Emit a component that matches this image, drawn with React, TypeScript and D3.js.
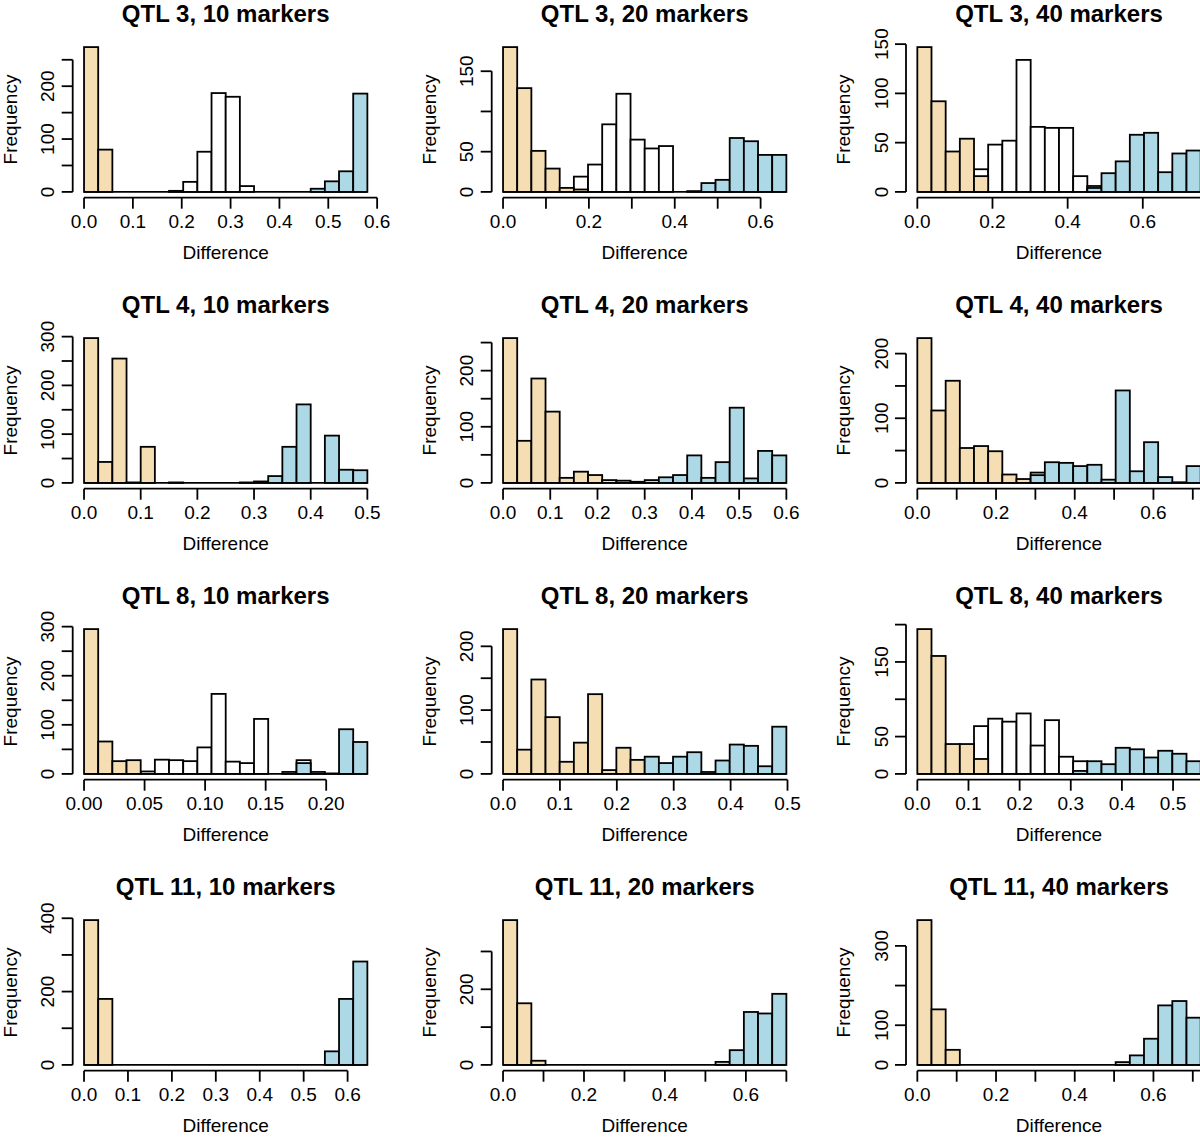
import React from 'react';
import * as d3 from 'd3';

/* ── counts per bin (20 equal bins from 0 to the panel max) ── */
// QTL 3
const q3m10Tan   = [274, 80, 0, 0, 0, 0, 0, 0, 0, 0, 0, 0, 0, 0, 0, 0, 0, 0, 0, 0];
const q3m10White = [0, 0, 0, 0, 0, 0, 2, 19, 76, 187, 180, 11, 0, 0, 0, 0, 0, 0, 0, 0];
const q3m10Blue  = [0, 0, 0, 0, 0, 0, 0, 0, 0, 0, 0, 0, 0, 0, 0, 0, 6, 20, 39, 186];

const q3m20Tan   = [180, 129, 51, 29, 5, 3, 0, 0, 0, 0, 0, 0, 0, 0, 0, 0, 0, 0, 0, 0];
const q3m20White = [0, 0, 0, 0, 0, 19, 34, 84, 122, 65, 54, 57, 0, 1, 0, 0, 0, 0, 0, 0];
const q3m20Blue  = [0, 0, 0, 0, 0, 0, 0, 0, 0, 0, 0, 0, 0, 0, 11, 15, 67, 63, 46, 46];

const q3m40Tan   = [147, 92, 41, 54, 16, 0, 0, 0, 0, 0, 0, 0, 0, 0, 0, 0, 0, 0, 0, 0];
const q3m40White = [0, 0, 0, 0, 23, 48, 52, 134, 66, 65, 65, 16, 6, 0, 0, 0, 0, 0, 0, 0];
const q3m40Blue  = [0, 0, 0, 0, 0, 0, 0, 0, 0, 0, 0, 0, 4, 19, 31, 58, 60, 20, 39, 42];

// QTL 4
const q4m10Tan   = [297, 43, 255, 1, 74, 0, 0, 0, 0, 0, 0, 0, 0, 0, 0, 0, 0, 0, 0, 0];
const q4m10White = [0, 0, 0, 0, 0, 0, 1, 0, 0, 0, 0, 1, 0, 0, 0, 0, 0, 0, 0, 0];
const q4m10Blue  = [0, 0, 0, 0, 0, 0, 0, 0, 0, 0, 0, 0, 3, 14, 74, 161, 0, 97, 27, 26];

const q4m20Tan   = [258, 75, 186, 127, 9, 20, 14, 5, 4, 2, 0, 0, 0, 0, 0, 0, 0, 0, 0, 0];
const q4m20White = [0, 0, 0, 0, 0, 0, 0, 0, 0, 0, 0, 0, 0, 0, 0, 0, 0, 0, 0, 0];
const q4m20Blue  = [0, 0, 0, 0, 0, 0, 0, 0, 0, 0, 5, 10, 14, 49, 9, 37, 134, 8, 57, 49];

const q4m40Tan   = [224, 112, 158, 54, 57, 49, 13, 6, 16, 0, 0, 0, 0, 0, 0, 0, 0, 0, 0, 0];
const q4m40White = [0, 0, 0, 0, 0, 0, 0, 0, 0, 0, 0, 0, 0, 0, 0, 0, 0, 0, 0, 0];
const q4m40Blue  = [0, 0, 0, 0, 0, 0, 0, 0, 12, 32, 31, 26, 28, 5, 143, 18, 63, 9, 1, 26];

// QTL 8
const q8m10Tan   = [295, 66, 26, 28, 0, 0, 0, 0, 0, 0, 0, 0, 0, 0, 0, 0, 0, 0, 0, 0];
const q8m10White = [0, 0, 0, 0, 5, 29, 28, 26, 54, 163, 25, 22, 112, 0, 4, 28, 4, 1, 0, 0];
const q8m10Blue  = [0, 0, 0, 0, 0, 0, 0, 0, 0, 0, 0, 0, 0, 0, 0, 22, 0, 0, 91, 65];

const q8m20Tan   = [227, 38, 148, 89, 19, 49, 125, 6, 41, 22, 0, 0, 0, 0, 0, 0, 0, 0, 0, 0];
const q8m20White = [0, 0, 0, 0, 0, 0, 0, 0, 0, 0, 0, 0, 0, 0, 0, 0, 0, 0, 0, 0];
const q8m20Blue  = [0, 0, 0, 0, 0, 0, 0, 0, 0, 0, 27, 17, 27, 34, 3, 21, 46, 44, 12, 74];

const q8m40Tan   = [194, 158, 40, 40, 20, 0, 0, 0, 0, 0, 0, 0, 0, 0, 0, 0, 0, 0, 0, 0];
const q8m40White = [0, 0, 0, 0, 64, 74, 70, 81, 38, 72, 23, 17, 0, 0, 0, 0, 0, 0, 0, 0];
const q8m40Blue  = [0, 0, 0, 0, 0, 0, 0, 0, 0, 0, 0, 4, 17, 13, 35, 33, 22, 31, 27, 17];

// QTL 11
const q11m10Tan   = [395, 180, 0, 0, 0, 0, 0, 0, 0, 0, 0, 0, 0, 0, 0, 0, 0, 0, 0, 0];
const q11m10White = [0, 0, 0, 0, 0, 0, 0, 0, 0, 0, 0, 0, 0, 0, 0, 0, 0, 0, 0, 0];
const q11m10Blue  = [0, 0, 0, 0, 0, 0, 0, 0, 0, 0, 0, 0, 0, 0, 0, 0, 0, 37, 180, 282];

const q11m20Tan   = [383, 163, 11, 0, 0, 0, 0, 0, 0, 0, 0, 0, 0, 0, 0, 0, 0, 0, 0, 0];
const q11m20White = [0, 0, 0, 0, 0, 0, 0, 0, 0, 0, 0, 0, 0, 0, 0, 0, 0, 0, 0, 0];
const q11m20Blue  = [0, 0, 0, 0, 0, 0, 0, 0, 0, 0, 0, 0, 0, 0, 0, 8, 39, 140, 136, 188];

const q11m40Tan   = [365, 140, 38, 0, 0, 0, 0, 0, 0, 0, 0, 0, 0, 0, 0, 0, 0, 0, 0, 0];
const q11m40White = [0, 0, 0, 0, 0, 0, 0, 0, 0, 0, 0, 0, 0, 0, 0, 0, 0, 0, 0, 0];
const q11m40Blue  = [0, 0, 0, 0, 0, 0, 0, 0, 0, 0, 0, 0, 0, 0, 7, 24, 66, 150, 161, 119];

/* upper end of the binned range per panel */
const xMaxes = [0.58, 0.66, 0.754, 0.5, 0.6, 0.72, 0.234, 0.498, 0.554, 0.645, 0.7, 0.72];

/* axis ticks and the labels R kept (ticks past the crop keep the axis line running to the edge) */
const xTicks = [
  [0, 0.1, 0.2, 0.3, 0.4, 0.5, 0.6], [0, 0.1, 0.2, 0.3, 0.4, 0.5, 0.6], [0, 0.2, 0.4, 0.6, 0.8],
  [0, 0.1, 0.2, 0.3, 0.4, 0.5], [0, 0.1, 0.2, 0.3, 0.4, 0.5, 0.6], [0, 0.1, 0.2, 0.3, 0.4, 0.5, 0.6, 0.7, 0.8],
  [0, 0.05, 0.1, 0.15, 0.2], [0, 0.1, 0.2, 0.3, 0.4, 0.5], [0, 0.1, 0.2, 0.3, 0.4, 0.5, 0.6],
  [0, 0.1, 0.2, 0.3, 0.4, 0.5, 0.6], [0, 0.1, 0.2, 0.3, 0.4, 0.5, 0.6, 0.7], [0, 0.1, 0.2, 0.3, 0.4, 0.5, 0.6, 0.7, 0.8]
];
const xLabels = [
  [0, 0.1, 0.2, 0.3, 0.4, 0.5, 0.6], [0, 0.2, 0.4, 0.6], [0, 0.2, 0.4, 0.6],
  [0, 0.1, 0.2, 0.3, 0.4, 0.5], [0, 0.1, 0.2, 0.3, 0.4, 0.5, 0.6], [0, 0.2, 0.4, 0.6],
  [0, 0.05, 0.1, 0.15, 0.2], [0, 0.1, 0.2, 0.3, 0.4, 0.5], [0, 0.1, 0.2, 0.3, 0.4, 0.5],
  [0, 0.1, 0.2, 0.3, 0.4, 0.5, 0.6], [0, 0.2, 0.4, 0.6], [0, 0.2, 0.4, 0.6]
];
const xDigits = [1, 1, 1, 1, 1, 1, 2, 1, 1, 1, 1, 1];
const yTicks = [
  [0, 50, 100, 150, 200, 250], [0, 50, 100, 150], [0, 50, 100, 150],
  [0, 50, 100, 150, 200, 250, 300], [0, 50, 100, 150, 200, 250], [0, 50, 100, 150, 200],
  [0, 50, 100, 150, 200, 250, 300], [0, 50, 100, 150, 200], [0, 50, 100, 150, 200],
  [0, 100, 200, 300, 400], [0, 100, 200, 300], [0, 100, 200, 300]
];
const yLabels = [
  [0, 100, 200], [0, 50, 150], [0, 50, 100, 150],
  [0, 100, 200, 300], [0, 100, 200], [0, 100, 200],
  [0, 100, 200, 300], [0, 100, 200], [0, 50, 150],
  [0, 200, 400], [0, 200], [0, 100, 300]
];
const titles = [
  'QTL 3, 10 markers', 'QTL 3, 20 markers', 'QTL 3, 40 markers',
  'QTL 4, 10 markers', 'QTL 4, 20 markers', 'QTL 4, 40 markers',
  'QTL 8, 10 markers', 'QTL 8, 20 markers', 'QTL 8, 40 markers',
  'QTL 11, 10 markers', 'QTL 11, 20 markers', 'QTL 11, 40 markers'
];
const tanSets = [q3m10Tan, q3m20Tan, q3m40Tan, q4m10Tan, q4m20Tan, q4m40Tan, q8m10Tan, q8m20Tan, q8m40Tan, q11m10Tan, q11m20Tan, q11m40Tan];
const whiteSets = [q3m10White, q3m20White, q3m40White, q4m10White, q4m20White, q4m40White, q8m10White, q8m20White, q8m40White, q11m10White, q11m20White, q11m40White];
const blueSets = [q3m10Blue, q3m20Blue, q3m40Blue, q4m10Blue, q4m20Blue, q4m40Blue, q8m10Blue, q8m20Blue, q8m40Blue, q11m10Blue, q11m20Blue, q11m40Blue];

/* layout */
const COL_X = [72.7, 491.7, 906];            // plot region left edge (y axis)
const ROW_B = [197.7, 488.7, 779.7, 1070.7]; // plot region bottom edge (x axis)
const PW = 306, PH = 156.4;
const FONT = '"Liberation Sans", Arial, Helvetica, sans-serif';
const LW = 1.8, TICK = 11;

function Panel({ idx }) {
  const L = COL_X[idx % 3];
  const B = ROW_B[Math.floor(idx / 3)];
  const T = B - PH;
  const xmax = xMaxes[idx];
  const sets = [
    { data: whiteSets[idx], fill: '#ffffff' },
    { data: tanSets[idx], fill: '#f5deb3' },
    { data: blueSets[idx], fill: '#add8e6' }
  ];
  const ymax = d3.max(sets.flatMap(s => s.data));
  const x = d3.scaleLinear().domain([-0.04 * xmax, 1.04 * xmax]).range([L, L + PW]);
  const y = d3.scaleLinear().domain([-0.04 * ymax, 1.04 * ymax]).range([B, T]);
  const n = 20, bw = xmax / n;
  const xt = xTicks[idx], yt = yTicks[idx];
  const fmt = d3.format(`.${xDigits[idx]}f`);

  return (
    <g>
      <text x={L + PW / 2} y={T - 19.6} textAnchor="middle" fontWeight="bold" fontSize={24}>
        {titles[idx]}
      </text>

      {/* empty bins still leave their outline on the baseline */}
      <line x1={x(0)} x2={x(xmax)} y1={y(0)} y2={y(0)} stroke="#000" strokeWidth={LW} />
      {sets.map((s, k) => (
        <g key={k}>
          {s.data.map((v, i) => v > 0 && (
            <rect key={i}
              x={x(i * bw)} width={x((i + 1) * bw) - x(i * bw)}
              y={y(v)} height={y(0) - y(v)}
              fill={s.fill} stroke="#000" strokeWidth={LW} />
          ))}
        </g>
      ))}

      {/* x axis */}
      <line x1={x(xt[0])} x2={x(xt[xt.length - 1])} y1={B} y2={B} stroke="#000" strokeWidth={LW} />
      {xt.map(t => (
        <line key={t} x1={x(t)} x2={x(t)} y1={B} y2={B + TICK} stroke="#000" strokeWidth={LW} />
      ))}
      {xLabels[idx].map(t => (
        <text key={t} x={x(t)} y={B + 30.6} textAnchor="middle" fontSize={19}>{fmt(t)}</text>
      ))}
      <text x={L + PW / 2} y={B + 61.6} textAnchor="middle" fontSize={19}>Difference</text>

      {/* y axis */}
      <line x1={L} x2={L} y1={y(yt[0])} y2={y(yt[yt.length - 1])} stroke="#000" strokeWidth={LW} />
      {yt.map(t => (
        <line key={t} x1={L} x2={L - TICK} y1={y(t)} y2={y(t)} stroke="#000" strokeWidth={LW} />
      ))}
      {yLabels[idx].map(t => (
        <text key={t} transform={`translate(${L - 18.5},${y(t)}) rotate(-90)`} textAnchor="middle" fontSize={19}>
          {t}
        </text>
      ))}
      <text transform={`translate(${L - 56},${(T + B) / 2}) rotate(-90)`} textAnchor="middle" fontSize={19}>
        Frequency
      </text>
    </g>
  );
}

export default function App() {
  return (
    <div style={{ position: 'absolute', left: 0, top: 0 }}>
      <svg width={1200} height={1138} style={{ display: 'block', background: '#fff', fontFamily: FONT }}>
        {titles.map((_, i) => <Panel key={i} idx={i} />)}
      </svg>
    </div>
  );
}
